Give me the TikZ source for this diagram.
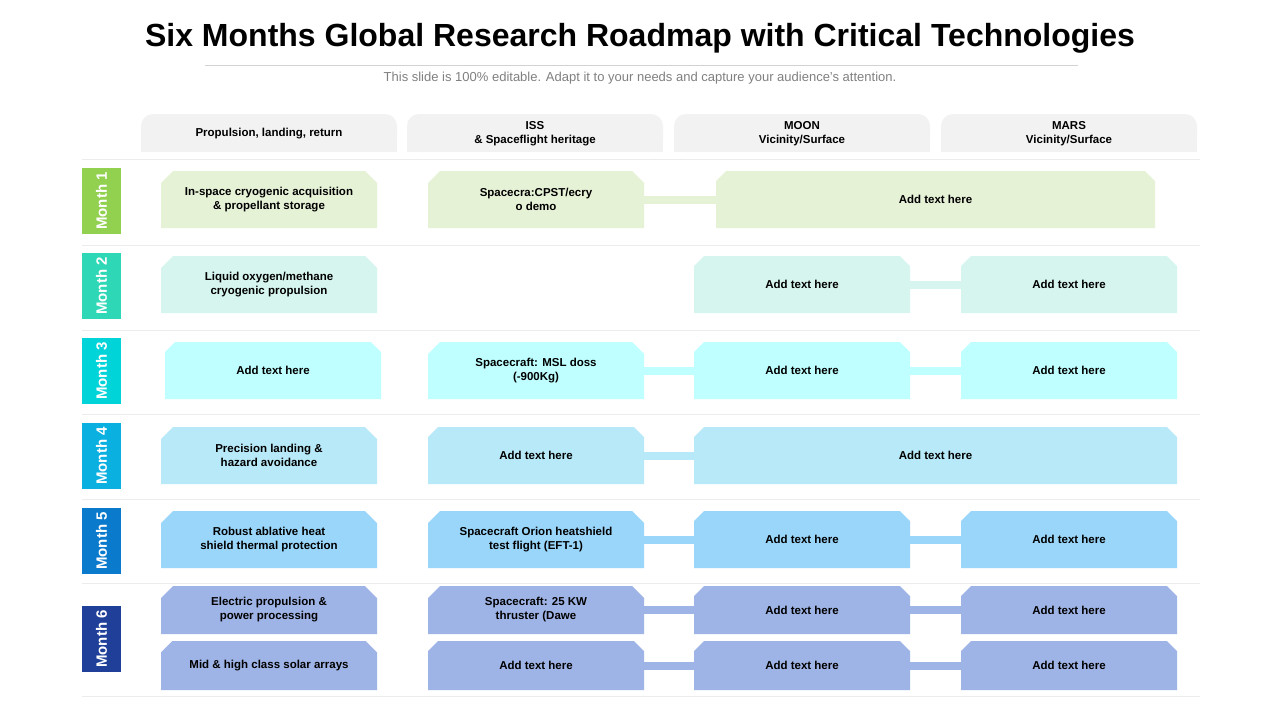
\documentclass[tikz,border=0pt]{standalone}
\usepackage{fontspec}
\setmainfont{Liberation Sans}
\usetikzlibrary{shapes.misc}
\definecolor{rowa}{HTML}{E6F2D6}
\definecolor{rowb}{HTML}{D6F5EE}
\definecolor{rowc}{HTML}{BFFFFF}
\definecolor{rowd}{HTML}{B8E9F8}
\definecolor{rowe}{HTML}{99D6FA}
\definecolor{rowf}{HTML}{9FB4E6}
\definecolor{taba}{HTML}{92D050}
\definecolor{tabb}{HTML}{2ED8B6}
\definecolor{tabc}{HTML}{00D4D8}
\definecolor{tabd}{HTML}{0AB0E0}
\definecolor{tabe}{HTML}{0A7ACC}
\definecolor{tabf}{HTML}{1F3F99}
\tikzset{
  task/.style={chamfered rectangle, chamfered rectangle corners={north west,north east},
    chamfered rectangle xsep=6pt, chamfered rectangle ysep=6pt, inner sep=0pt,
    align=center, font=\fontsize{11.5}{14}\selectfont\bfseries},
  link/.style={line width=8pt},
  month/.style={rotate=90, minimum width=66pt, minimum height=39pt, inner sep=0pt,
    text=white, font=\fontsize{15}{17}\selectfont\bfseries},
  head/.style={align=center, font=\fontsize{11.5}{14}\selectfont\bfseries},
  sep/.style={draw=gray!15, line width=0.8pt}
}
% box from corner coordinates: name, x1, y1, x2, y2, fill, text
\newcommand{\roadbox}[7]{%
  \node[task, fill=#6, minimum width={(#4-#2)*1pt}, minimum height={(#5-#3)*1pt}]
    (#1) at ({(#2+#4)/2},{(#3+#5)/2}) {#7};}
\begin{document}
\begin{tikzpicture}[x=1pt,y=-1pt]
\useasboundingbox[fill=white] (0,0) rectangle (1280,720);
\node (title) at (640,38) {\fontsize{32}{36}\selectfont\bfseries Six Months Global Research Roadmap with Critical Technologies};
\draw[gray!35] (205,65) -- (1078,65);
\node[text=gray] (sub) at (640,78) {\fontsize{13}{15}\selectfont This slide is 100\% editable. Adapt it to your needs and capture your audience's attention.};
% column heads
\foreach \x/\t [count=\i] in {141/{Propulsion, landing, return},
  407/{ISS\\\& Spaceflight heritage}, 674/{MOON\\Vicinity/Surface}, 941/{MARS\\Vicinity/Surface}}{
  \fill[gray!10, rounded corners=12pt] (\x,114) rectangle (\x+256,152);
  \fill[gray!10] (\x,130) rectangle (\x+256,152);
  \node[head] (h\i) at (\x+128,134) {\t};
}
% separators
\foreach \y in {159,245,330,414,499,583,696}
  \draw[sep] (82,\y) -- (1200,\y);
% month tabs
\foreach \y/\c [count=\i] in {168/taba,253/tabb,338/tabc,423/tabd,508/tabe,606/tabf}
  \node[month, fill=\c] (m\i) at (101.5,\y+33) {Month \i};
% month 1
\roadbox{a1}{161}{171}{377}{228}{rowa}{In-space cryogenic acquisition\\\& propellant storage}
\roadbox{a2}{428}{171}{644}{228}{rowa}{Spacecra:CPST/ecry\\o demo}
\roadbox{a3}{716}{171}{1155}{228}{rowa}{Add text here}
\draw[link, rowa] (a2.east) -- (a3.west);
% month 2
\roadbox{b1}{161}{256}{377}{313}{rowb}{Liquid oxygen/methane\\cryogenic propulsion}
\roadbox{b3}{694}{256}{910}{313}{rowb}{Add text here}
\roadbox{b4}{961}{256}{1177}{313}{rowb}{Add text here}
\draw[link, rowb] (b3.east) -- (b4.west);
% month 3
\roadbox{c1}{165}{342}{381}{399}{rowc}{Add text here}
\roadbox{c2}{428}{342}{644}{399}{rowc}{Spacecraft: MSL doss\\(-900Kg)}
\roadbox{c3}{694}{342}{910}{399}{rowc}{Add text here}
\roadbox{c4}{961}{342}{1177}{399}{rowc}{Add text here}
\draw[link, rowc] (c2.east) -- (c3.west) (c3.east) -- (c4.west);
% month 4
\roadbox{d1}{161}{427}{377}{484}{rowd}{Precision landing \&\\hazard avoidance}
\roadbox{d2}{428}{427}{644}{484}{rowd}{Add text here}
\roadbox{d3}{694}{427}{1177}{484}{rowd}{Add text here}
\draw[link, rowd] (d2.east) -- (d3.west);
% month 5
\roadbox{e1}{161}{511}{377}{568}{rowe}{Robust ablative heat\\shield thermal protection}
\roadbox{e2}{428}{511}{644}{568}{rowe}{Spacecraft Orion heatshield\\test flight (EFT-1)}
\roadbox{e3}{694}{511}{910}{568}{rowe}{Add text here}
\roadbox{e4}{961}{511}{1177}{568}{rowe}{Add text here}
\draw[link, rowe] (e2.east) -- (e3.west) (e3.east) -- (e4.west);
% month 6
\roadbox{f1}{161}{586}{377}{634}{rowf}{Electric propulsion \&\\power processing}
\roadbox{f2}{428}{586}{644}{634}{rowf}{Spacecraft: 25 KW\\thruster (Dawe}
\roadbox{f3}{694}{586}{910}{634}{rowf}{Add text here}
\roadbox{f4}{961}{586}{1177}{634}{rowf}{Add text here}
\roadbox{g1}{161}{641}{377}{690}{rowf}{Mid \& high class solar arrays}
\roadbox{g2}{428}{641}{644}{690}{rowf}{Add text here}
\roadbox{g3}{694}{641}{910}{690}{rowf}{Add text here}
\roadbox{g4}{961}{641}{1177}{690}{rowf}{Add text here}
\draw[link, rowf] (f2.east) -- (f3.west) (f3.east) -- (f4.west)
  (g2.east) -- (g3.west) (g3.east) -- (g4.west);
\end{tikzpicture}
\end{document}
